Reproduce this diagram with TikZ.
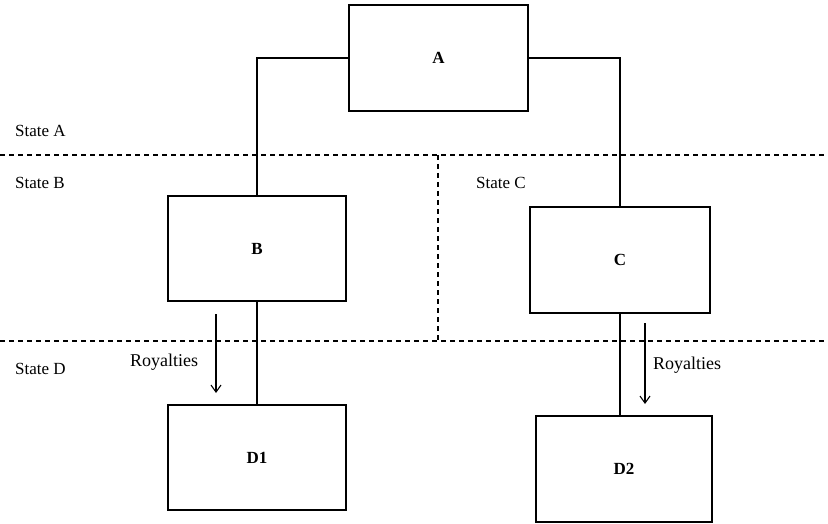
\documentclass[tikz,border=0pt]{standalone}
\usepackage{fontspec}
\setmainfont{Liberation Serif}
\usetikzlibrary{arrows.meta}
\begin{document}
\begin{tikzpicture}[x=1pt,y=-1pt,
  box/.style={draw,line width=1.3pt,minimum width=#1,inner sep=0pt,font=\fontsize{17}{20}\selectfont\bfseries},
  box/.default=178pt,
  conn/.style={line width=1.3pt},
  sep/.style={line width=1.3pt,dash pattern=on 5pt off 4pt},
  roy/.style={line width=1.1pt,-{Straight Barb[length=7pt,width=10pt,line width=1.1pt]}},
  lab/.style={font=\fontsize{17}{20}\selectfont,inner sep=0pt,anchor=west},
  roylab/.style={font=\fontsize{18}{21}\selectfont,inner sep=0pt,anchor=west}]
\useasboundingbox (0,0) rectangle (828,524);
% boxes
\node[box=179pt,minimum height=106pt] (A) at (438.5,58) {A};
\node[box=178pt,minimum height=105pt] (B) at (257,248.5) {B};
\node[box=180pt,minimum height=106pt] (C) at (620,260) {C};
\node[box=178pt,minimum height=105pt] (D1) at (257,457.5) {D1};
\node[box=176pt,minimum height=106pt] (D2) at (624,469) {D2};
% separators
\coordinate (s1l) at (0,155);
\coordinate (s1r) at (828,155);
\coordinate (s2l) at (0,341);
\coordinate (s2r) at (828,341);
\coordinate (v1) at (438,155);
\coordinate (v2) at (438,341);
\draw[sep] (s1l) -- (s1r);
\draw[sep] (s2l) -- (s2r);
\draw[sep] (v1) -- (v2);
% connectors
\draw[conn] (A.west) -| (B.north);
\draw[conn] (A.east) -| (C.north);
\draw[conn] (B.south) -- (D1.north);
\draw[conn] (C.south) -- (C.south |- D2.north);
% royalties arrows
\coordinate (r1a) at (216,314);
\coordinate (r1b) at (216,393);
\coordinate (r2a) at (645,323);
\coordinate (r2b) at (645,404);
\draw[roy] (r1a) -- (r1b);
\draw[roy] (r2a) -- (r2b);
% labels
\node[lab] (lA) at (15,131) {State A};
\node[lab] (lB) at (15,183) {State B};
\node[lab] (lC) at (476,183) {State C};
\node[lab] (lD) at (15,369) {State D};
\node[roylab] (roy1) at (130,362) {Royalties};
\node[roylab] (roy2) at (653,365) {Royalties};
\end{tikzpicture}
\end{document}
